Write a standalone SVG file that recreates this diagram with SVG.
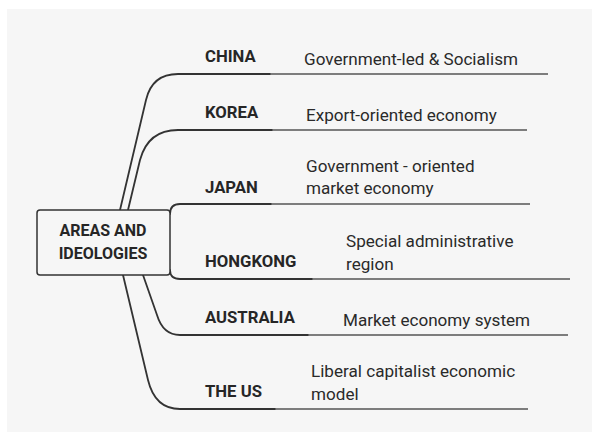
<svg xmlns="http://www.w3.org/2000/svg" width="592" height="432" viewBox="0 0 592 432">
<style>
.lbl{font-family:Roboto,"Liberation Sans",sans-serif;font-weight:bold;font-size:16.7px;fill:#262626}
.root{font-family:Roboto,"Liberation Sans",sans-serif;font-weight:bold;font-size:16px;fill:#262626}
.desc{font-family:Roboto,"Liberation Sans",sans-serif;font-size:17.1px;fill:#2a2a2a}
.br{fill:none;stroke:#333;stroke-width:1.8;stroke-linecap:round}
.ext{fill:none;stroke:#555;stroke-width:1.4}
.box{fill:#f6f6f6;stroke:#333;stroke-width:1.5}
</style>
<rect x="0" y="0" width="592" height="432" fill="#ffffff"/>
<rect x="7" y="9" width="585" height="423" fill="#f6f6f6"/>
<g id="connectors">
<path class="br" d="M120,210 L146,100 Q152,74 178,74 L270,74"/>
<path class="ext" d="M270,74 L548,74"/>
<path class="br" d="M128,210 L140,160 Q148,130 178,130 L272,130"/>
<path class="ext" d="M272,130 L527,130"/>
<path class="br" d="M170,214 Q170,204 180,204 L271,204"/>
<path class="ext" d="M271,204 L530,204"/>
<path class="br" d="M170,270 Q170,279 180,279 L312,279"/>
<path class="ext" d="M312,279 L570,279"/>
<path class="br" d="M143,275 L157,315 Q163,335 180,335 L308,335"/>
<path class="ext" d="M308,335 L568,335"/>
<path class="br" d="M123,275 L148,380 Q155,409 180,409 L275,409"/>
<path class="ext" d="M275,409 L528,409"/>
</g>
<g id="root">
<rect class="box" x="37" y="210" width="133" height="65" rx="3"/>
<text class="root" x="103" y="236" text-anchor="middle">AREAS AND</text>
<text class="root" x="103" y="259" text-anchor="middle">IDEOLOGIES</text>
</g>
<g id="china">
<text class="lbl" x="205" y="62">CHINA</text>
<text class="desc" x="304" y="65">Government-led &amp; Socialism</text>
</g>
<g id="korea">
<text class="lbl" x="205" y="118">KOREA</text>
<text class="desc" x="306" y="121">Export-oriented economy</text>
</g>
<g id="japan">
<text class="lbl" x="205" y="193">JAPAN</text>
<text class="desc" x="306" y="172">Government - oriented</text>
<text class="desc" x="306" y="194">market economy</text>
</g>
<g id="hongkong">
<text class="lbl" x="205" y="267">HONGKONG</text>
<text class="desc" x="346" y="247">Special administrative</text>
<text class="desc" x="346" y="270">region</text>
</g>
<g id="australia">
<text class="lbl" x="205" y="323">AUSTRALIA</text>
<text class="desc" x="343" y="326">Market economy system</text>
</g>
<g id="theus">
<text class="lbl" x="205" y="397">THE US</text>
<text class="desc" x="311" y="377">Liberal capitalist economic</text>
<text class="desc" x="311" y="400">model</text>
</g>
</svg>
